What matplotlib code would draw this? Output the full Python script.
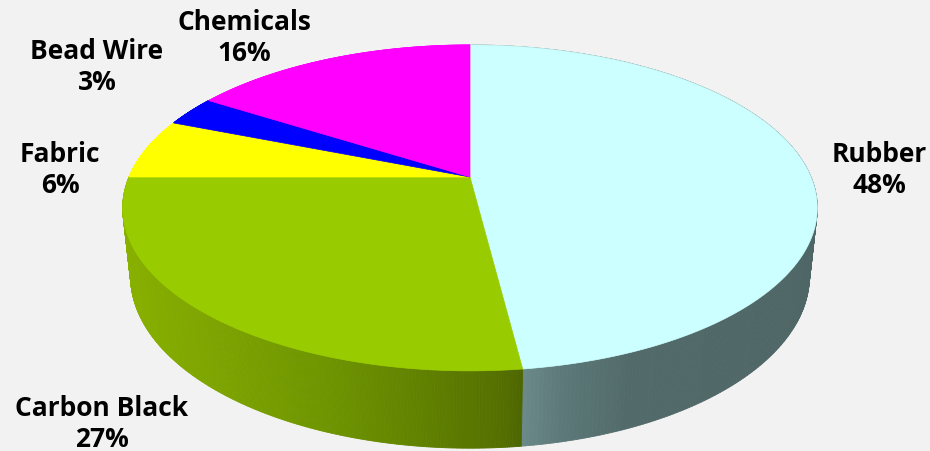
import numpy as np
import matplotlib.pyplot as plt
from matplotlib.patches import Polygon
from matplotlib.collections import PolyCollection
from matplotlib.colors import to_rgb

# tyre composition
labels = ['Rubber', 'Carbon Black', 'Fabric', 'Bead Wire', 'Chemicals']
values = [48, 27, 6, 3, 16]
top_colors = ['#CCFFFF', '#99CC00', '#FFFF00', '#0000FF', '#FF00FF']

# side wall shading: (screen x, colour) anchors per slice
side_shades = {
    'Rubber': [(522, '#6C8A8A'), (565, '#5C7878'), (630, '#526A6A'), (830, '#4F6666')],
    'Carbon Black': [(110, '#8AB200'), (330, '#6E9400'), (500, '#557000'), (522, '#4D6600')],
}

# where each label block sits (pixel coords)
label_pos = {
    'Rubber': (879, 170),
    'Carbon Black': (102, 424),
    'Fabric': (60, 170),
    'Bead Wire': (97, 67),
    'Chemicals': (244, 38),
}

# 3d pie geometry, pixel space
cx, cy, R = 470, 178, 341
sin_e, cos_e = 0.4607, 0.8876
dist = 4.68
height = 0.227


def project(theta, z):
    # theta clockwise from 12 o'clock, z=0 top face, z<0 below
    x = np.sin(theta)
    y = -np.cos(theta)
    v = z * cos_e - y * sin_e
    w = y * cos_e + z * sin_e
    sc = dist / (dist - w)
    return cx + R * x * sc, cy - R * v * sc, w


def shade(name, X):
    pts = side_shades.get(name)
    if pts is None:
        return to_rgb(top_colors[labels.index(name)])
    xs = [p[0] for p in pts]
    cs = np.array([to_rgb(p[1]) for p in pts])
    return tuple(np.interp(X, xs, cs[:, k]) for k in range(3))


fig = plt.figure(figsize=(9.3, 4.52), dpi=100, facecolor='#F2F2F2')
ax = fig.add_axes([0, 0, 1, 1])
ax.set_facecolor('#F2F2F2')
ax.set_xlim(0, 930)
ax.set_ylim(452, 0)
ax.axis('off')

fracs = np.array(values) / sum(values)
edges = np.concatenate([[0], np.cumsum(fracs)]) * 2 * np.pi

# outer side wall, drawn back to front
quads, cols, depth = [], [], []
for i, name in enumerate(labels):
    t = np.linspace(edges[i], edges[i + 1], 300)
    xt, yt, wt = project(t, 0)
    xb, yb, wb = project(t, -height)
    for j in range(len(t) - 1):
        quads.append([(xt[j], yt[j]), (xt[j + 1], yt[j + 1]),
                      (xb[j + 1], yb[j + 1]), (xb[j], yb[j])])
        cols.append(shade(name, 0.5 * (xt[j] + xt[j + 1])))
        depth.append(wt[j])
order = np.argsort(depth)
pc = PolyCollection([quads[k] for k in order], facecolors=[cols[k] for k in order],
                    edgecolors=[cols[k] for k in order], linewidths=0.6)
ax.add_collection(pc)

# top face slices
for i, name in enumerate(labels):
    t = np.linspace(edges[i], edges[i + 1], 200)
    xt, yt, _ = project(t, 0)
    pts = [(cx, cy)] + list(zip(xt, yt))
    ax.add_patch(Polygon(pts, closed=True, facecolor=top_colors[i],
                         edgecolor=top_colors[i], linewidth=0.5))

for name, v in zip(labels, values):
    lx, ly = label_pos[name]
    ax.text(lx, ly, f'{name}\n{v}%', ha='center', va='center',
            fontsize=19, fontweight='bold', family='Open Sans',
            linespacing=1.2, color='black')

fig.savefig('out.png', dpi=100, facecolor=fig.get_facecolor())
